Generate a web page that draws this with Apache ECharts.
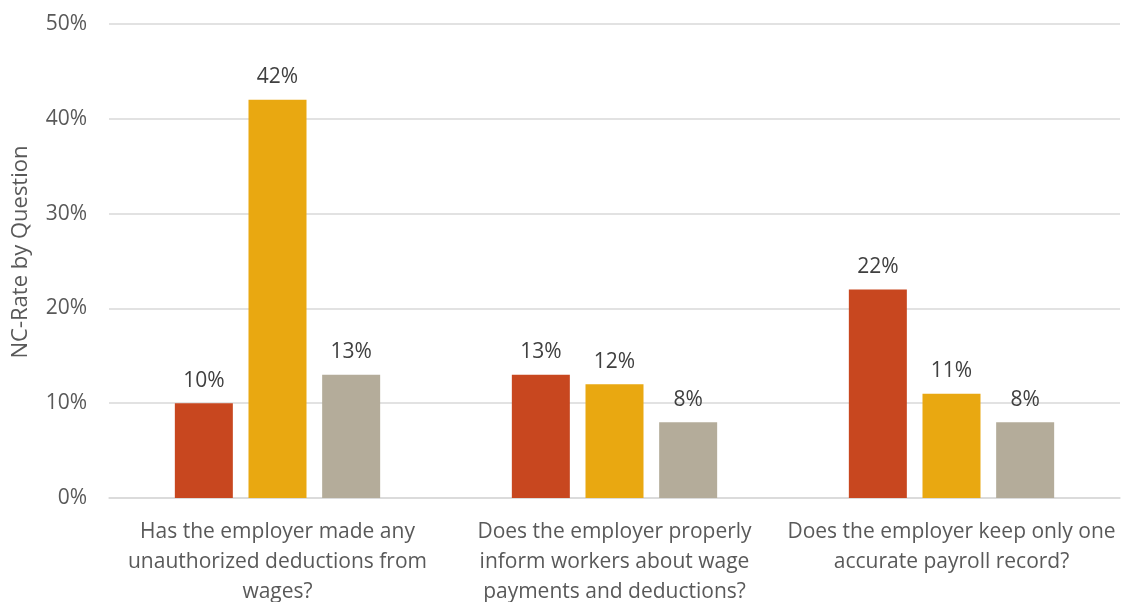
<!DOCTYPE html>
<html>
<head>
<meta charset="utf-8">
<script src="https://cdn.jsdelivr.net/npm/echarts@6/dist/echarts.min.js"></script>
<style>html,body{margin:0;padding:0;background:#fff}#c{width:1126px;height:602px}</style>
</head>
<body>
<div id="c"></div>
<script>
const categories = [
  "Has the employer made any\nunauthorized deductions from\nwages?",
  "Does the employer properly\ninform workers about wage\npayments and deductions?",
  "Does the employer keep only one\naccurate payroll record?"
];
const seriesA = [10, 13, 22];
const seriesB = [42, 12, 11];
const seriesC = [13, 8, 8];
const yTicks = { min: 0, max: 50, interval: 10 };

const font = "'Open Sans', sans-serif";
const colors = ["#C8471F", "#E9A811", "#B4AC9A"];
const mk = (name, data, color) => ({
  name, type: "bar", data, barWidth: 58, barGap: "27%",
  itemStyle: { color },
  label: { show: true, position: "top", distance: 12, formatter: "{c}%", color: "#404040", fontSize: 21, fontFamily: font }
});

const chart = echarts.init(document.getElementById("c"));
chart.setOption({
  animation: false,
  grid: { left: 109, right: 6, top: 24, bottom: 104, containLabel: false, outerBoundsMode: "none" },
  xAxis: {
    type: "category", data: categories,
    axisLine: { show: true, lineStyle: { color: "#D9D9D9", width: 1.5 } },
    axisTick: { show: false },
    axisLabel: { color: "#595959", fontSize: 21, fontFamily: font, lineHeight: 30, margin: 19, interval: 0 }
  },
  yAxis: {
    type: "value", min: yTicks.min, max: yTicks.max, interval: yTicks.interval,
    name: "NC-Rate by Question", nameLocation: "middle", nameGap: 77,
    nameTextStyle: { color: "#595959", fontSize: 22, fontFamily: font, padding: [0, 0, 0, 18] },
    axisLine: { show: false }, axisTick: { show: false },
    axisLabel: { formatter: "{value}%", color: "#595959", fontSize: 21, fontFamily: font, margin: 22 },
    splitLine: { lineStyle: { color: "#D9D9D9", width: 1.5 } }
  },
  series: [
    mk("Series 1", seriesA, colors[0]),
    mk("Series 2", seriesB, colors[1]),
    mk("Series 3", seriesC, colors[2])
  ]
});
</script>
</body>
</html>
